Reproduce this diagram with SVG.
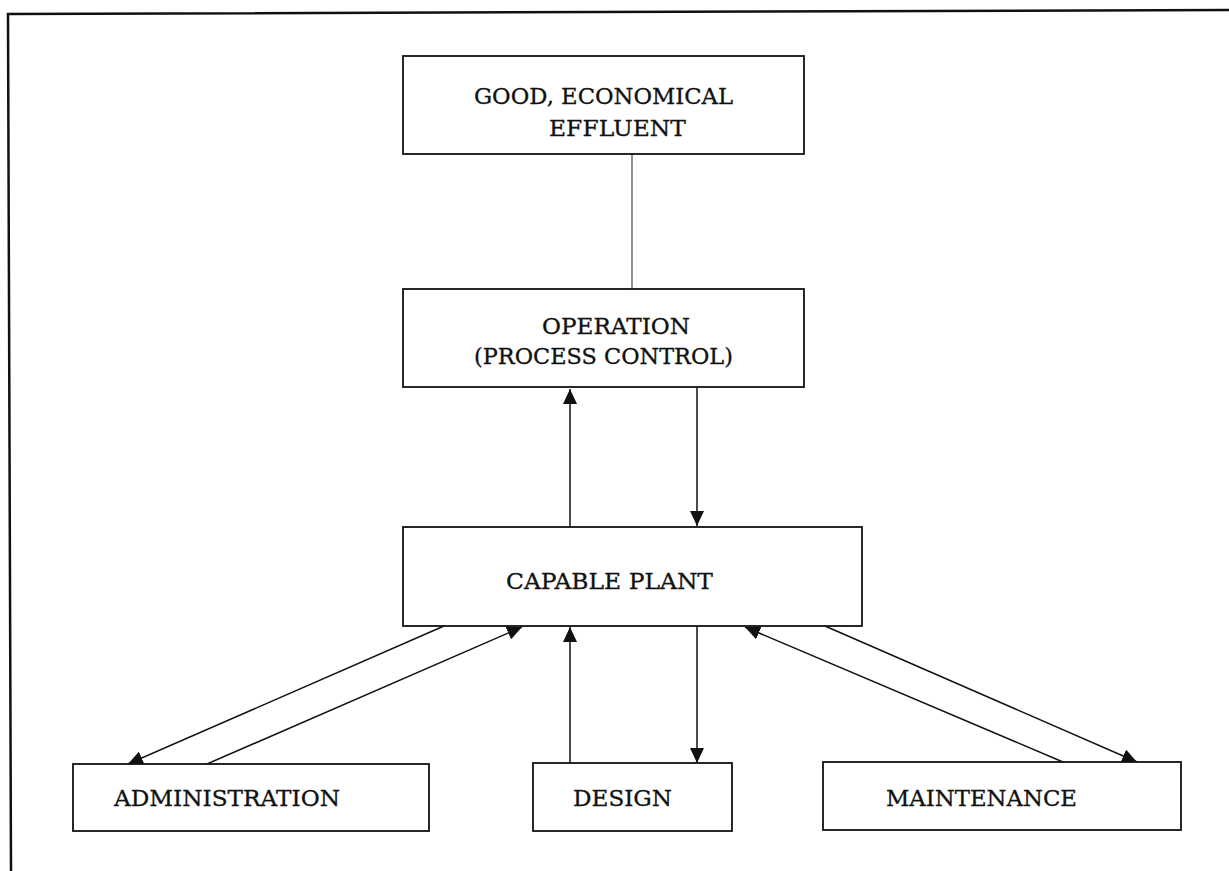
<svg xmlns="http://www.w3.org/2000/svg" width="1229" height="871" viewBox="0 0 1229 871">
<style>
.box{fill:#fff;stroke:#111;stroke-width:1.8}
.t{font-family:"DejaVu Serif","Liberation Serif",serif;font-size:22px;fill:#111;stroke:#111;stroke-width:0.3}
.c{stroke:#111;stroke-width:1.5;fill:none}
.plain{stroke:#555;stroke-width:1.3;fill:none}
</style>
<defs>
<marker id="ah" markerUnits="userSpaceOnUse" markerWidth="16" markerHeight="14" refX="15" refY="7" orient="auto">
<path d="M0,0 L15,7 L0,14 Z" fill="#111"/>
</marker>
</defs>
<rect width="1229" height="871" fill="#fff"/>
<g id="frame">
<path d="M1229,10 L8,14 L11,871" fill="none" stroke="#111" stroke-width="2.5"/>
</g>
<g id="connectors">
<line class="plain" x1="632" y1="154" x2="632" y2="289"/>
<line class="c" x1="570" y1="527" x2="570" y2="389" marker-end="url(#ah)"/>
<line class="c" x1="697" y1="388" x2="697" y2="526" marker-end="url(#ah)"/>
<line class="c" x1="444" y1="626" x2="128" y2="764" marker-end="url(#ah)"/>
<line class="c" x1="207" y1="764" x2="522" y2="627" marker-end="url(#ah)"/>
<line class="c" x1="570" y1="763" x2="570" y2="627" marker-end="url(#ah)"/>
<line class="c" x1="697" y1="626" x2="697" y2="763" marker-end="url(#ah)"/>
<line class="c" x1="1063" y1="762" x2="745" y2="627" marker-end="url(#ah)"/>
<line class="c" x1="825" y1="626" x2="1137" y2="762" marker-end="url(#ah)"/>
</g>
<g id="good">
<rect class="box" x="403" y="56" width="401" height="98"/>
<text class="t" x="474" y="104" textLength="259" lengthAdjust="spacingAndGlyphs">GOOD, ECONOMICAL</text>
<text class="t" x="549" y="136" textLength="137" lengthAdjust="spacingAndGlyphs">EFFLUENT</text>
</g>
<g id="operation">
<rect class="box" x="403" y="289" width="401" height="98"/>
<text class="t" x="542" y="334" textLength="148" lengthAdjust="spacingAndGlyphs">OPERATION</text>
<text class="t" x="474" y="364" textLength="259" lengthAdjust="spacingAndGlyphs">(PROCESS CONTROL)</text>
</g>
<g id="plant">
<rect class="box" x="403" y="527" width="459" height="99"/>
<text class="t" x="506" y="589" textLength="207" lengthAdjust="spacingAndGlyphs">CAPABLE PLANT</text>
</g>
<g id="administration">
<rect class="box" x="73" y="764" width="356" height="67"/>
<text class="t" x="114" y="806" textLength="226" lengthAdjust="spacingAndGlyphs">ADMINISTRATION</text>
</g>
<g id="design">
<rect class="box" x="533" y="763" width="199" height="68"/>
<text class="t" x="573" y="806" textLength="99" lengthAdjust="spacingAndGlyphs">DESIGN</text>
</g>
<g id="maintenance">
<rect class="box" x="823" y="762" width="358" height="68"/>
<text class="t" x="886" y="806" textLength="191" lengthAdjust="spacingAndGlyphs">MAINTENANCE</text>
</g>
</svg>
